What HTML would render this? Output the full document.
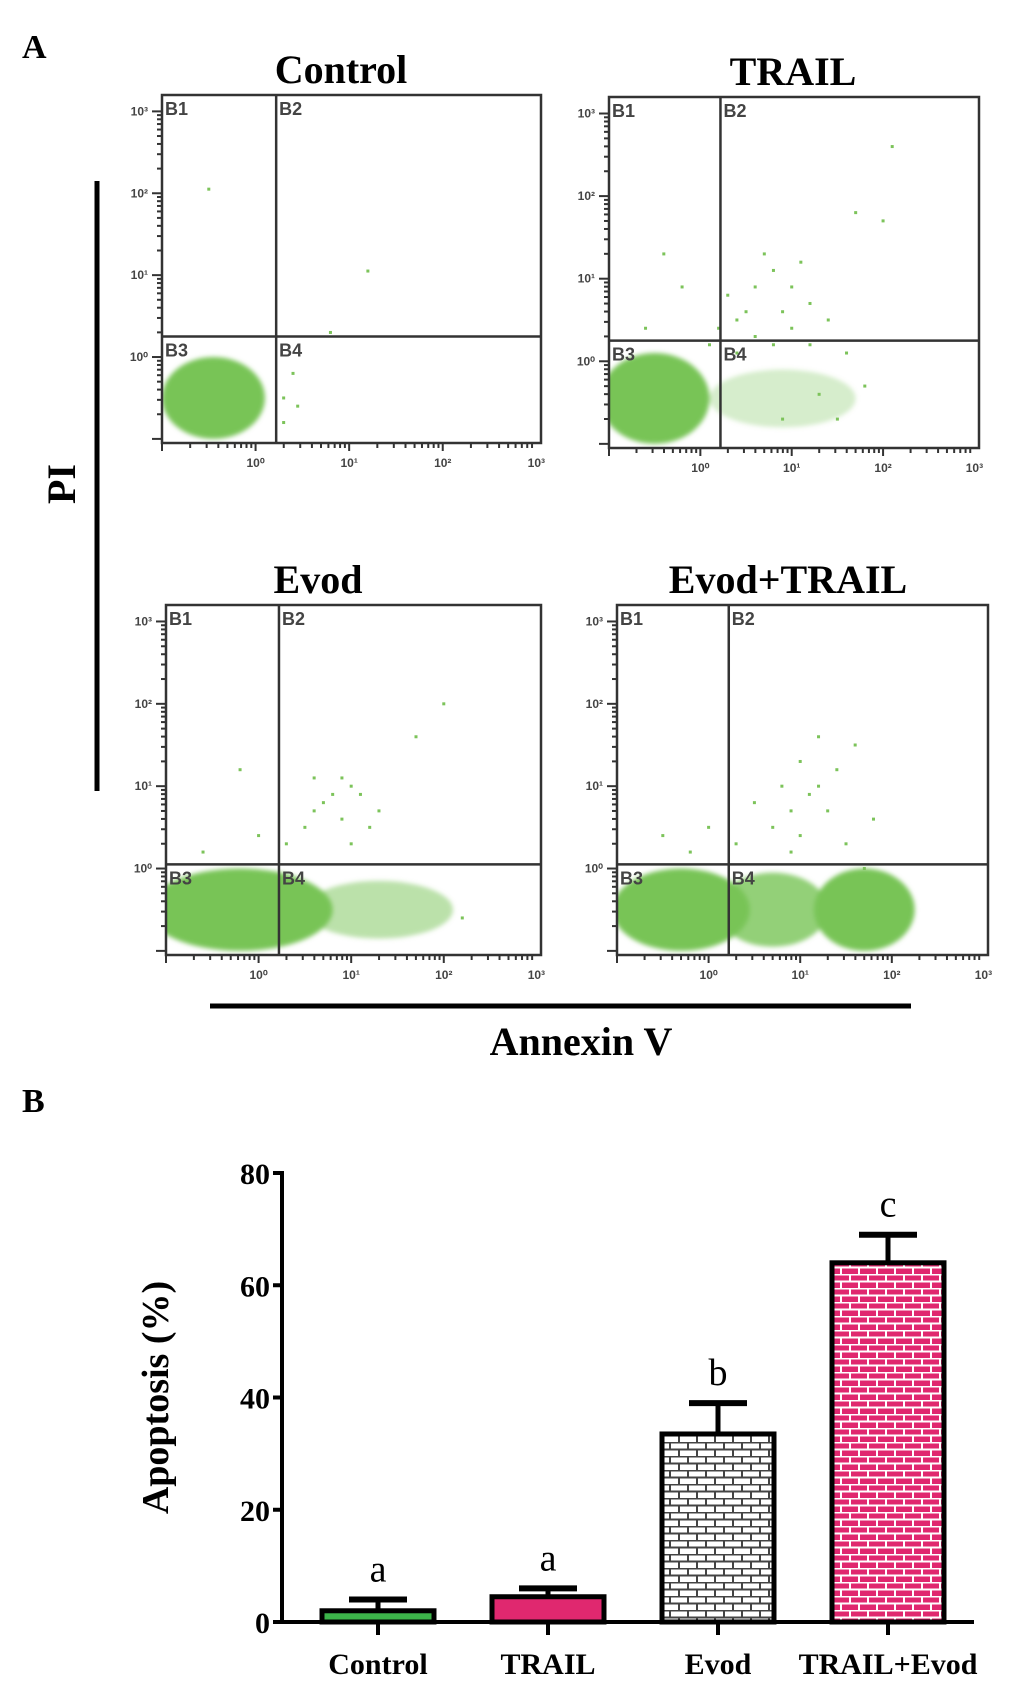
<!DOCTYPE html>
<html><head><meta charset="utf-8">
<style>
html,body{margin:0;padding:0;background:#fff;}
body{width:1033px;height:1683px;position:relative;overflow:hidden;}
svg{position:absolute;left:0;top:0;}
</style></head>
<body>
<svg id="fig" width="1033" height="1683" viewBox="0 0 1033 1683" xmlns="http://www.w3.org/2000/svg">
<defs>
  <filter id="soft" x="-20%" y="-20%" width="140%" height="140%"><feGaussianBlur stdDeviation="2.5"/></filter>
  <pattern id="brickWhite" width="18" height="14" patternUnits="userSpaceOnUse">
    <rect width="18" height="14" fill="#fff"/>
    <path d="M0 0.5H18M0 7.5H18M4 0V7M13 7V14" stroke="#444" stroke-width="2"/>
  </pattern>
  <pattern id="brickPink" width="18" height="14" patternUnits="userSpaceOnUse">
    <rect width="18" height="14" fill="#e0286f"/>
    <path d="M0 0.5H18M0 7.5H18M4 0V7M13 7V14" stroke="#fff" stroke-width="2"/>
  </pattern>
</defs>
<text x="22" y="58" font-family="Liberation Serif" font-weight="bold" font-size="34">A</text>
<text x="22" y="1112" font-family="Liberation Serif" font-weight="bold" font-size="34">B</text>
<line x1="97" y1="181" x2="97" y2="791" stroke="#000" stroke-width="5"/>
<text transform="translate(75,484) rotate(-90)" text-anchor="middle" font-family="Liberation Serif" font-weight="bold" font-size="40">PI</text>
<line x1="210" y1="1006" x2="911" y2="1006" stroke="#000" stroke-width="5"/>
<text x="581" y="1055" text-anchor="middle" font-family="Liberation Serif" font-weight="bold" font-size="40">Annexin V</text>
<g id="flow"></g>
<g id="bars"></g>
</svg>
<script>
const NS='http://www.w3.org/2000/svg';
function mk(tag,attrs,parent){const e=document.createElementNS(NS,tag);for(const k in attrs)e.setAttribute(k,attrs[k]);parent.appendChild(e);return e;}

// ---------- Flow cytometry panels (data in log10 units) ----------
const panelTitles=['Control','TRAIL','Evod','Evod+TRAIL'];
const panelGateX=[0.22,0.22,0.22,0.22];
const panelGateY=[0.25,0.25,0.05,0.05];
const blobsControl=[[-0.45,-0.5,0.55,0.5,1]];
const blobsTrail=[[-0.5,-0.45,0.6,0.55,1],[0.9,-0.45,0.8,0.35,0.3]];
const blobsEvod=[[-0.2,-0.5,1.0,0.5,1],[1.3,-0.5,0.8,0.35,0.5]];
const blobsEvodTrail=[[-0.3,-0.5,0.75,0.5,1],[0.7,-0.5,0.6,0.45,0.8],[1.7,-0.5,0.55,0.5,1]];
const pointsControl=[[-0.5,2.05],[1.2,1.05],[0.8,0.3],[0.4,-0.2],[0.3,-0.5],[0.45,-0.6],[0.3,-0.8]];
const pointsTrail=[[2.1,2.6],[1.7,1.8],[2.0,1.7],[-0.4,1.3],[0.8,1.1],[0.6,0.9],[1.0,0.9],[0.3,0.8],[0.5,0.6],[0.9,0.6],[1.2,0.7],[-0.2,0.9],[0.2,0.4],[0.6,0.3],[1.0,0.4],[1.4,0.5],[-0.6,0.4],[0.1,0.2],[1.6,0.1],[0.4,0.1],[1.8,-0.3],[1.3,-0.4],[0.9,-0.7],[1.5,-0.7],[0.7,1.3],[1.1,1.2],[0.4,0.5],[0.8,0.2],[1.2,0.2]];
const pointsEvod=[[2.0,2.0],[1.7,1.6],[-0.2,1.2],[0.6,1.1],[0.9,1.1],[1.1,0.9],[1.3,0.7],[0.9,0.6],[0.5,0.5],[1.0,0.3],[0.7,0.8],[-0.6,0.2],[0.0,0.4],[1.2,0.5],[0.3,0.3],[2.2,-0.6],[0.6,0.7],[1.0,1.0],[0.8,0.9]];
const pointsEvodTrail=[[1.2,1.6],[1.6,1.5],[1.0,1.3],[1.4,1.2],[0.8,1.0],[1.1,0.9],[0.5,0.8],[1.3,0.7],[0.7,0.5],[1.0,0.4],[1.5,0.3],[-0.5,0.4],[0.0,0.5],[-0.2,0.2],[0.3,0.3],[1.8,0.6],[0.9,0.2],[1.7,0.0],[1.2,1.0],[0.9,0.7]];
const blobSets=[blobsControl,blobsTrail,blobsEvod,blobsEvodTrail];
const pointSets=[pointsControl,pointsTrail,pointsEvod,pointsEvodTrail];
const decadeLabels=['10⁰','10¹','10²','10³'];
const boxes=[[162,95,541,443],[609,97,979,448],[166,605,541,955],[617,605,988,955]];
const titleX=[341,793,318,788];
const XMIN=-1,XMAX=3.05,YMIN=-1.05,YMAX=3.2;

const flow=document.getElementById('flow');
boxes.forEach((b,i)=>{
  const [x0,y0,x1,y1]=b;
  const sx=v=>x0+(v-XMIN)/(XMAX-XMIN)*(x1-x0);
  const sy=v=>y1-(v-YMIN)/(YMAX-YMIN)*(y1-y0);
  const g=mk('g',{},flow);
  
  
  const t=mk('text',{x:titleX[i],y:y0-12,'text-anchor':'middle','font-family':'Liberation Serif','font-weight':'bold','font-size':40},g);
  t.textContent=panelTitles[i];
  
  
  const cl=mk('g',{filter:'url(#soft)'},g);
  blobSets[i].forEach(bl=>{
    const e=mk('ellipse',{cx:sx(bl[0]),cy:sy(bl[1]),rx:bl[2]*(x1-x0)/(XMAX-XMIN),ry:bl[3]*(y1-y0)/(YMAX-YMIN),fill:'#78c456','fill-opacity':bl[4]},cl);
    
    
  });
  pointSets[i].forEach(p=>{
    const c=mk('rect',{x:sx(p[0])-1.5,y:sy(p[1])-1.5,width:3,height:3,fill:'#7cc35a'},g);
    
    
  });
  mk('rect',{x:x0-30,y:y1+1,width:x1-x0+60,height:30,fill:'#fff'},g);
  mk('rect',{x:x0-30,y:y0,width:29,height:y1-y0+20,fill:'#fff'},g);
  const box=mk('rect',{x:x0,y:y0,width:x1-x0,height:y1-y0,fill:'none',stroke:'#333','stroke-width':2.5},g);
  
  
  const gx=mk('line',{x1:sx(panelGateX[i]),x2:sx(panelGateX[i]),y1:y0,y2:y1,stroke:'#333','stroke-width':2.5},g);
  
  
  const gy=mk('line',{x1:x0,x2:x1,y1:sy(panelGateY[i]),y2:sy(panelGateY[i]),stroke:'#333','stroke-width':2.5},g);
  
  
  const ql=[['B1',x0+3,y0+20],['B2',sx(panelGateX[i])+3,y0+20],['B3',x0+3,sy(panelGateY[i])+20],['B4',sx(panelGateX[i])+3,sy(panelGateY[i])+20]];
  ql.forEach(q=>{
    const tt=mk('text',{x:q[1],y:q[2],'font-family':'Liberation Sans','font-weight':'bold','font-size':18,fill:'#444'},g);
    tt.textContent=q[0];
    
    
  });
  for(let d=-1;d<3;d++){for(let m=1;m<10;m++){const v=d+Math.log10(m);if(v<XMIN)continue;
    mk('line',{x1:sx(v),x2:sx(v),y1:y1,y2:y1+(m==1?8:5),stroke:'#333','stroke-width':2},g);}}
  for(let d=-1;d<4;d++){for(let m=1;m<10;m++){const v=d+Math.log10(m);if(v<YMIN||v>YMAX)continue;
    mk('line',{x1:x0,x2:x0-(m==1?10:5),y1:sy(v),y2:sy(v),stroke:'#333','stroke-width':2},g);}}
  decadeLabels.forEach((lab,k)=>{
    const a=mk('text',{x:sx(k),y:y1+24,'text-anchor':'middle','font-family':'Liberation Sans','font-weight':'bold','font-size':12,fill:'#444'},g);
    a.textContent=lab;
    
    
    const b2=mk('text',{x:x0-14,y:sy(k)+4,'text-anchor':'end','font-family':'Liberation Sans','font-weight':'bold','font-size':12,fill:'#444'},g);
    b2.textContent=lab;
    
    
  });
});

// ---------- Bar chart ----------
const categories=['Control','TRAIL','Evod','TRAIL+Evod'];
const values=[2,4.5,33.5,64];
const errors=[2,1.5,5.5,5];
const letters=['a','a','b','c'];
const yTicks=[0,20,40,60,80];
const fills=['#3cb44a','#e0286f','url(#brickWhite)','url(#brickPink)'];
const AX=282,AY0=1622,AY1=1173,AXR=974,YMAXB=80;
const ys=v=>AY0-v/YMAXB*(AY0-AY1);
const xs=i=>378+i*170;
const BW=112;
const bars=document.getElementById('bars');
const ya=mk('line',{x1:AX,x2:AX,y1:AY1-2,y2:AY0+2,stroke:'#000','stroke-width':4},bars);


const xa=mk('line',{x1:AX-2,x2:AXR,y1:AY0,y2:AY0,stroke:'#000','stroke-width':4},bars);


yTicks.forEach(v=>{
  mk('line',{x1:AX-9,x2:AX,y1:ys(v),y2:ys(v),stroke:'#000','stroke-width':4},bars);
  const t=mk('text',{x:AX-12,y:ys(v)+11,'text-anchor':'end','font-family':'Liberation Serif','font-weight':'bold','font-size':30},bars);
  t.textContent=v;
  
  
});
const yt=mk('text',{transform:'translate(168,'+ys(40)+') rotate(-90)','text-anchor':'middle','font-family':'Liberation Serif','font-weight':'bold','font-size':38},bars);
yt.textContent='Apoptosis (%)';


categories.forEach((c,i)=>{
  const cx=xs(i);
  const top=ys(values[i]+errors[i]);
  const el=mk('line',{x1:cx,x2:cx,y1:top,y2:ys(values[i]),stroke:'#000','stroke-width':5},bars);
  
  
  const cap=mk('line',{x1:cx-29,x2:cx+29,y1:top,y2:top,stroke:'#000','stroke-width':6},bars);
  
  
  const r=mk('rect',{x:cx-BW/2,y:ys(values[i]),width:BW,height:AY0-ys(values[i]),fill:fills[i],stroke:'#000','stroke-width':5},bars);
  
  
  mk('line',{x1:cx,x2:cx,y1:AY0,y2:AY0+13,stroke:'#000','stroke-width':4},bars);
  const l=mk('text',{x:cx,y:top-18,'text-anchor':'middle','font-family':'Liberation Serif','font-size':38},bars);
  l.textContent=letters[i];
  
  
  const xl=mk('text',{x:cx,y:1674,'text-anchor':'middle','font-family':'Liberation Serif','font-weight':'bold','font-size':30},bars);
  xl.textContent=c;
  
  
});
</script>
</body></html>
